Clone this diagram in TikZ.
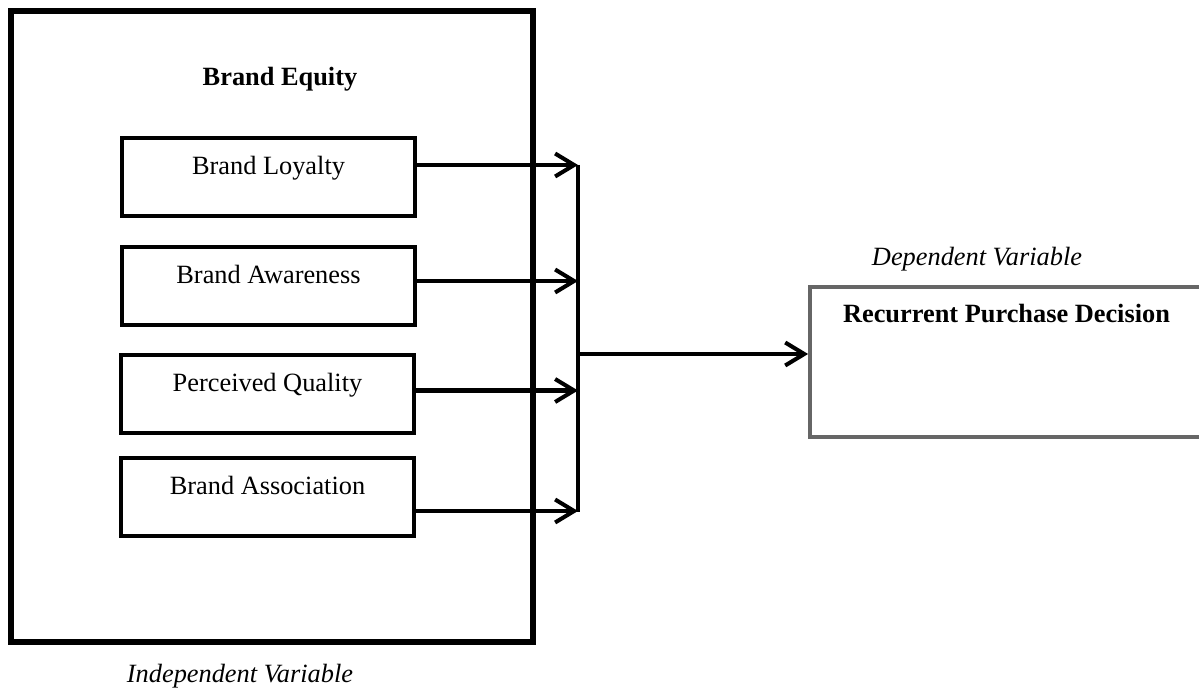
\documentclass[tikz,border=0pt]{standalone}
\usepackage{fontspec}
\setmainfont{Liberation Serif}
\usetikzlibrary{arrows.meta,positioning}

\newcommand{\figfont}{\fontsize{15}{18}\selectfont}

\tikzset{
  dimbox/.style={draw,line width=2.5pt,inner sep=0pt,minimum width=5.86cm,
    text height=0.72cm,text depth=0.84cm,anchor=base,font=\figfont},
  depbox/.style={draw=black!60,line width=2.2pt,inner sep=0pt,minimum width=7.86cm,
    text height=0.7cm,text depth=2.3cm,anchor=base,font=\figfont\bfseries},
  caption/.style={anchor=base,font=\figfont\itshape},
  arr/.style={line width=2.3pt,-{Straight Barb[length=0.38cm,width=0.46cm]}},
}

\begin{document}
\begin{tikzpicture}[x=0.02cm,y=-0.02cm]
  \useasboundingbox (0,0) rectangle (1199,689);

	% independent side
	\node[draw,line width=3pt,minimum width=10.44cm,minimum height=12.62cm] (frame) at (272,326.5) {};
	\node[anchor=base,font=\figfont\bfseries] (eqtitle) at (280,86) {Brand Equity};

	\node[dimbox] (loyalty) at (268.5,174) {Brand Loyalty};
	\node[dimbox] (awareness) at (268.5,283) {Brand Awareness};
	\node[dimbox] (quality) at (267.5,391) {Perceived Quality};
	\node[dimbox] (association) at (267.5,494) {Brand Association};

	\node[caption] (indepvar) at (240,682) {Independent Variable};

	% collecting line
	\coordinate (bus) at (578,165);
	\coordinate (busend) at (578,512);
	\coordinate (join) at (578,354);
	\draw[line width=2.3pt] (bus) -- (busend);

	\draw[arr] ([yshift=0.24cm]loyalty.east) -- ([yshift=0.24cm]loyalty.east -| bus);
	\draw[arr] ([yshift=0.1cm]awareness.east) -- ([yshift=0.1cm]awareness.east -| bus);
	\draw[arr] ([yshift=0.07cm]quality.east) -- ([yshift=0.07cm]quality.east -| bus);
	\draw[arr] ([yshift=-0.28cm]association.east) -- ([yshift=-0.28cm]association.east -| bus);

	% dependent side
	\node[depbox] (rpd) at (1006.5,322) {Recurrent Purchase Decision};
	\node[caption] (depvar) at (977,265) {Dependent Variable};

	\draw[arr] (join) -- (join -| rpd.west);
\end{tikzpicture}
\end{document}
